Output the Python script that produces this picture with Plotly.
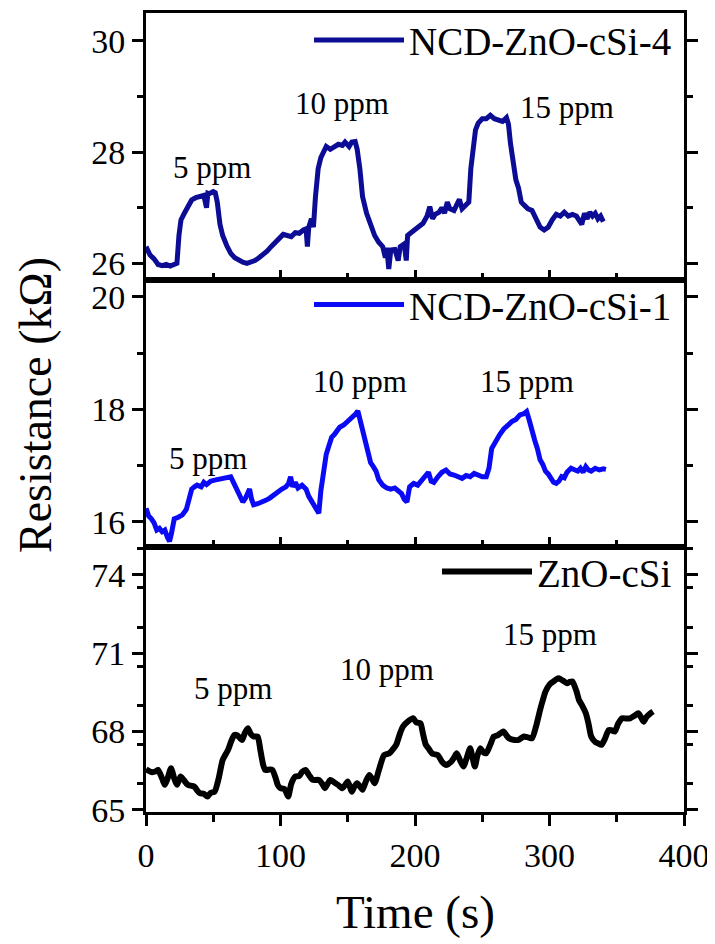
import plotly.graph_objects as go
from plotly.subplots import make_subplots

# ---- data ----
t4 = [0, 3, 6, 9, 12, 15, 18, 21, 23, 24.5, 26, 28.5, 31, 34, 37, 40, 43, 45, 46, 47, 50, 51.5, 53, 55, 57, 60, 63, 66, 69, 72, 75, 78, 81, 84, 87, 90, 93, 96, 99, 102, 105, 108, 111, 114, 117, 119, 120, 121, 123, 124.5, 126, 128, 130, 132, 134, 137, 140, 143, 146, 148, 151, 153, 155.5, 157, 159, 161, 164, 167, 170, 173, 176, 178, 179, 180.5, 182, 185, 187.5, 189, 192, 193.5, 194.5, 197, 200, 203, 206, 209, 211, 213, 215, 218, 220, 222, 224, 226, 229, 231, 233, 235, 237, 240, 241.5, 243, 245, 247, 250, 253, 256, 259, 262, 265, 268, 269.5, 271, 273, 275, 277, 279, 281, 284, 287, 290, 293, 296, 299, 302, 305, 308, 311, 314, 317, 320, 322, 324, 326, 328, 330, 332, 334, 336, 338, 340]
r4 = [26.30, 26.15, 26.08, 25.98, 25.96, 25.98, 25.95, 25.97, 26.00, 26.50, 26.78, 26.90, 27.02, 27.14, 27.18, 27.20, 27.22, 27.00, 27.26, 27.25, 27.29, 27.27, 27.10, 26.70, 26.50, 26.32, 26.18, 26.10, 26.05, 26.02, 26.00, 26.02, 26.05, 26.10, 26.15, 26.22, 26.30, 26.38, 26.45, 26.52, 26.50, 26.48, 26.55, 26.54, 26.60, 26.62, 26.30, 26.65, 26.80, 26.65, 27.20, 27.70, 27.90, 28.00, 28.10, 28.05, 28.10, 28.14, 28.12, 28.18, 28.10, 28.18, 28.19, 28.05, 27.70, 27.20, 26.90, 26.70, 26.50, 26.38, 26.30, 26.10, 26.28, 25.90, 26.24, 26.25, 26.05, 26.30, 26.35, 26.05, 26.50, 26.55, 26.60, 26.65, 26.72, 26.85, 27.02, 26.80, 26.88, 26.92, 27.00, 26.90, 27.10, 26.98, 26.95, 27.05, 27.15, 26.98, 27.02, 27.10, 27.70, 28.10, 28.40, 28.52, 28.60, 28.60, 28.66, 28.60, 28.58, 28.55, 28.62, 28.50, 28.15, 27.80, 27.50, 27.35, 27.10, 27.05, 26.98, 26.95, 26.80, 26.65, 26.60, 26.65, 26.78, 26.88, 26.85, 26.92, 26.85, 26.88, 26.85, 26.78, 26.70, 26.90, 26.80, 26.92, 26.85, 26.90, 26.80, 26.85, 26.75]

t1 = [0, 2, 4, 6, 8, 10, 12, 14, 16, 17.5, 19, 21, 24, 27, 30, 32, 34, 36, 38, 41, 43, 45, 48, 51, 54, 57, 60, 63, 65, 67, 70, 72, 74, 75.5, 77, 78.5, 80, 83, 86, 89, 92, 95, 98, 101, 104, 106, 107.5, 109, 111, 113, 116, 119, 121, 124, 127, 128.5, 130, 132, 134, 136, 138, 140, 142, 144, 147, 150, 153, 156, 157.5, 159, 161, 163, 165, 167, 169, 171, 173, 176, 179, 182, 185, 188, 190, 192, 194, 196, 199, 202, 205, 208, 210, 212, 214, 217, 220, 223, 226, 229, 232, 235, 238, 241, 244, 247, 250, 253, 255, 257, 260, 263, 266, 269, 272, 275, 278, 281, 283, 285, 287, 289, 291, 293, 295, 297, 299, 301, 303, 305, 307, 309, 311, 313, 316, 319, 321, 323, 325, 327, 329, 331, 334, 337, 340, 342]
r1 = [16.24, 16.10, 16.05, 15.98, 15.85, 15.88, 15.82, 15.85, 15.72, 15.65, 15.80, 16.05, 16.08, 16.12, 16.22, 16.40, 16.58, 16.62, 16.65, 16.62, 16.70, 16.66, 16.72, 16.74, 16.76, 16.77, 16.79, 16.80, 16.70, 16.60, 16.48, 16.35, 16.42, 16.52, 16.58, 16.40, 16.30, 16.32, 16.34, 16.38, 16.42, 16.48, 16.52, 16.58, 16.62, 16.68, 16.80, 16.62, 16.70, 16.60, 16.65, 16.58, 16.45, 16.32, 16.22, 16.15, 16.55, 16.95, 17.20, 17.35, 17.50, 17.55, 17.62, 17.68, 17.72, 17.78, 17.85, 17.92, 17.97, 17.82, 17.62, 17.40, 17.22, 17.05, 16.98, 16.90, 16.75, 16.65, 16.60, 16.58, 16.60, 16.55, 16.50, 16.40, 16.35, 16.62, 16.68, 16.65, 16.74, 16.80, 16.88, 16.72, 16.70, 16.80, 16.88, 16.92, 16.85, 16.83, 16.80, 16.77, 16.82, 16.80, 16.86, 16.82, 16.80, 16.80, 16.95, 17.30, 17.45, 17.55, 17.65, 17.72, 17.78, 17.82, 17.90, 17.92, 17.96, 17.80, 17.60, 17.45, 17.30, 17.10, 17.02, 16.90, 16.85, 16.75, 16.70, 16.68, 16.72, 16.80, 16.78, 16.88, 16.95, 16.92, 16.90, 16.95, 16.88, 16.98, 16.92, 16.90, 16.95, 16.92, 16.94, 16.93]

t0 = [0, 4, 7, 9, 12, 14, 16, 18.6, 21, 23, 25.7, 28, 31, 34, 36, 38, 40, 43, 45.7, 48, 51, 54, 57, 61, 63.5, 65.7, 68, 71.4, 73.5, 75.7, 78, 80, 83, 85, 87, 88.6, 92, 94, 96.5, 98, 100, 103, 105.7, 108, 111, 114, 116, 118.6, 121, 124, 128.6, 131, 133, 135, 137, 140, 143, 146, 148, 150, 153, 155, 157, 159, 161, 163.5, 166, 168, 170, 173, 177, 181, 184, 186, 189, 191, 195, 198.6, 201, 204, 206, 208, 210, 213, 217, 220, 223, 227, 229, 231, 233.5, 236, 238.5, 241, 243, 244.5, 246.5, 248.6, 251, 253, 256, 258.6, 261, 264, 266, 268, 270, 274, 277, 279, 281, 284, 287, 290, 293, 295, 297, 300, 303, 305, 307, 310, 313, 315, 317, 320, 322, 324, 327, 329, 331, 334, 336, 338.6, 341, 344, 346, 348.6, 351, 354, 357, 360, 363, 366, 368, 370, 372, 375, 377]
r0 = [66.56, 66.45, 66.47, 66.53, 66.20, 65.96, 66.20, 66.60, 66.20, 65.96, 66.28, 66.15, 65.96, 65.92, 65.89, 65.75, 65.64, 65.62, 65.51, 65.65, 65.70, 66.20, 66.91, 67.30, 67.65, 67.87, 67.85, 67.68, 67.95, 68.13, 67.90, 67.81, 67.81, 67.30, 66.75, 66.53, 66.55, 66.53, 66.20, 65.95, 65.83, 65.80, 65.51, 66.00, 66.28, 66.30, 66.45, 66.53, 66.35, 66.15, 66.15, 66.00, 65.83, 66.00, 66.15, 66.05, 65.95, 65.83, 65.95, 66.09, 65.70, 65.90, 66.02, 65.90, 65.77, 66.10, 66.34, 66.20, 66.02, 66.50, 67.10, 67.17, 67.35, 67.49, 67.95, 68.19, 68.40, 68.51, 68.35, 68.32, 67.90, 67.50, 67.36, 67.15, 67.10, 66.85, 66.72, 66.85, 67.00, 67.17, 66.90, 66.66, 67.00, 67.36, 66.95, 66.66, 67.10, 67.36, 67.20, 67.17, 67.50, 67.81, 67.85, 67.95, 68.00, 67.85, 67.74, 67.68, 67.68, 67.75, 67.81, 67.78, 67.74, 68.20, 68.83, 69.20, 69.53, 69.80, 69.92, 70.00, 70.04, 69.95, 69.85, 69.90, 69.92, 69.55, 69.20, 69.02, 68.70, 68.30, 67.81, 67.60, 67.55, 67.49, 67.70, 68.06, 68.05, 68.00, 68.30, 68.51, 68.50, 68.51, 68.60, 68.70, 68.55, 68.38, 68.55, 68.70, 68.77]

names = ["NCD-ZnO-cSi-4", "NCD-ZnO-cSi-1", "ZnO-cSi"]
colors = ["#0c0c94", "#0a0af5", "#000000"]
ppm_labels = ["5 ppm", "10 ppm", "15 ppm"]
# label anchor positions (time, resistance) per panel
lab4 = [(49, 27.73), (146, 28.88), (313, 28.80)]
lab1 = [(46, 17.12), (159, 18.49), (283, 18.49)]
lab0 = [(64.5, 69.66), (179, 70.36), (300, 71.70)]

FONT = "Liberation Serif, Times New Roman, Tinos, DejaVu Serif, serif"

fig = make_subplots(rows=3, cols=1, shared_xaxes=True, vertical_spacing=0)

fig.add_trace(go.Scatter(x=t4, y=r4, mode="lines", name=names[0],
                         line=dict(color=colors[0], width=5), legend="legend"), row=1, col=1)
fig.add_trace(go.Scatter(x=t1, y=r1, mode="lines", name=names[1],
                         line=dict(color=colors[1], width=5), legend="legend2"), row=2, col=1)
fig.add_trace(go.Scatter(x=t0, y=r0, mode="lines", name=names[2],
                         line=dict(color=colors[2], width=6, shape="spline", smoothing=0.6),
                         legend="legend3"), row=3, col=1)

d_top = [0.6658, 1.0]
d_mid = [0.3317, 0.6658]
d_bot = [0.0, 0.3317]

axis_common = dict(showline=True, linecolor="black", linewidth=3, showgrid=False,
                   zeroline=False, tickcolor="black", tickwidth=3, automargin=False,
                   tickfont=dict(family=FONT, size=34, color="black"))

for i, dom in zip([1, 2, 3], [d_top, d_mid, d_bot]):
    xa = dict(axis_common, range=[0, 400], dtick=100, tick0=0, mirror=True,
              ticklabeloverflow="allow")
    if i < 3:
        xa.update(ticks="inside", ticklen=10, showticklabels=False,
                  minor=dict(dtick=50, ticks="inside", ticklen=7, tickwidth=3, tickcolor="black"))
    else:
        xa.update(ticks="outside", ticklen=11,
                  minor=dict(dtick=50, ticks="outside", ticklen=7, tickwidth=3, tickcolor="black"))
    fig.update_xaxes(xa, row=i, col=1)
    fig.update_yaxes(domain=dom, row=i, col=1)

fig.update_yaxes(axis_common, row=1, col=1, range=[25.7, 30.5], dtick=2, tick0=26,
                 ticks="outside", ticklen=11, mirror="ticks",
                 minor=dict(dtick=1, ticks="outside", ticklen=6, tickwidth=3, tickcolor="black"))
fig.update_yaxes(axis_common, row=2, col=1, range=[15.55, 20.3], dtick=2, tick0=16,
                 ticks="outside", ticklen=11, mirror="ticks",
                 minor=dict(dtick=1, ticks="outside", ticklen=6, tickwidth=3, tickcolor="black"))
fig.update_yaxes(axis_common, row=3, col=1, range=[64.92, 75.07], dtick=3, tick0=65,
                 ticks="outside", ticklen=11, mirror="ticks",
                 minor=dict(dtick=1.5, ticks="outside", ticklen=6, tickwidth=3, tickcolor="black"))

annots = []
for (xr, yr, labs) in [("x", "y", lab4), ("x2", "y2", lab1), ("x3", "y3", lab0)]:
    for txt, (tx, ty) in zip(ppm_labels, labs):
        annots.append(dict(x=tx, y=ty, xref=xr, yref=yr, text=txt, showarrow=False,
                           xanchor="center", yanchor="middle",
                           font=dict(family=FONT, size=31, color="black")))
annots.append(dict(x=-0.205, y=0.509, xref="paper", yref="paper", text="Resistance (kΩ)",
                   textangle=-90, showarrow=False, xanchor="center", yanchor="middle",
                   font=dict(family=FONT, size=46, color="black")))
annots.append(dict(x=0.5, y=-0.125, xref="paper", yref="paper", text="Time (s)",
                   showarrow=False, xanchor="center", yanchor="middle",
                   font=dict(family=FONT, size=47, color="black")))

leg_common = dict(xanchor="right", x=0.987, yanchor="top", bgcolor="rgba(0,0,0,0)",
                  font=dict(family=FONT, size=39, color="black"), itemwidth=90,
                  tracegroupgap=0)

# the page body adds an 8px offset, so margins are reduced by 8px on the top/left
fig.update_layout(
    width=715, height=944,
    margin=dict(l=138, r=39, t=5, b=140, autoexpand=False),
    paper_bgcolor="white", plot_bgcolor="white",
    annotations=annots,
    showlegend=True,
    legend=dict(leg_common, y=1.006),
    legend2=dict(leg_common, y=0.675),
    legend3=dict(leg_common, y=0.341),
)

fig.write_html("out.html")
